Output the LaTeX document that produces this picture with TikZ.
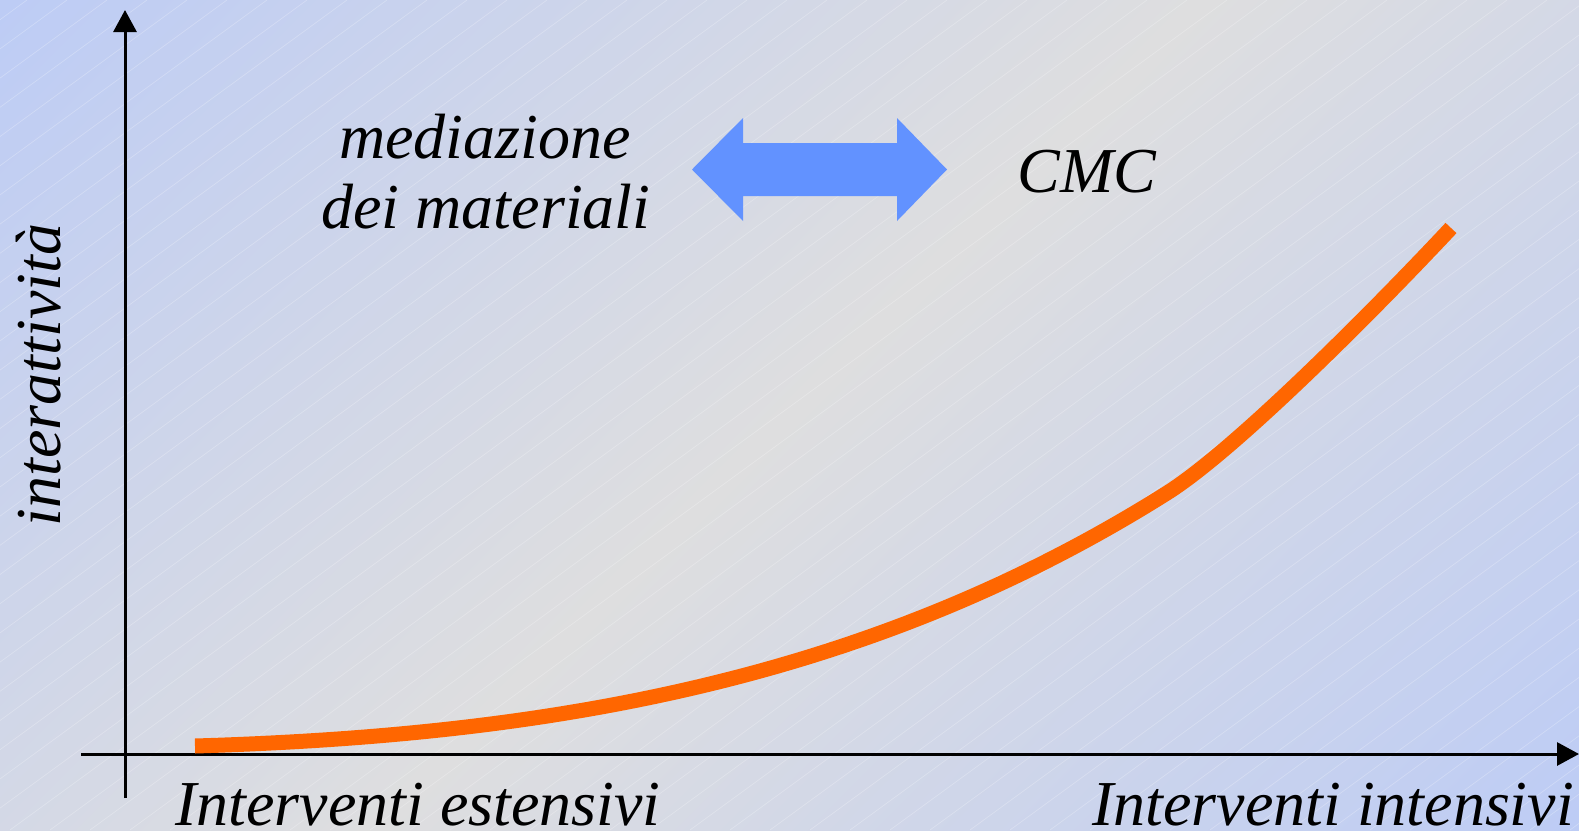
\documentclass[tikz,border=0pt]{standalone}
\usepackage{fontspec}
\setmainfont{Liberation Serif}
\usetikzlibrary{arrows.meta}
\definecolor{bgblue}{RGB}{189,204,245}
\definecolor{bggrey}{RGB}{222,222,223}
\definecolor{arrblue}{RGB}{98,146,255}
\definecolor{curveorange}{RGB}{255,102,0}
\pgfdeclareverticalshading{bgshade}{100bp}{color(0bp)=(bgblue); color(14.64bp)=(bgblue); color(50bp)=(bggrey); color(85.36bp)=(bgblue); color(100bp)=(bgblue)}
\begin{document}
\begin{tikzpicture}[x=1pt,y=-1pt,
  lbl/.style={font=\fontsize{64}{72}\selectfont\itshape, inner sep=0pt, text=black},
  axisline/.style={line width=3pt, draw=black, -{Triangle[length=22pt,width=23pt]}},
  texture/.style={draw=white, opacity=0.25, line width=0.7pt},
  curvestyle/.style={draw=curveorange, line width=15pt},
  dblarrow/.style={fill=arrblue, draw=none}]
% background
\shade[shading=bgshade, shading angle=45] (0,0) rectangle (1579,830);
\useasboundingbox (0,0) rectangle (1579,830);
\begin{scope}
  \clip (0,0) rectangle (1579,830);
  \foreach \k in {-1,...,69} \draw[texture] ({27+40*\k},0) -- ++(-1137,830);
\end{scope}
% axes
\coordinate (yb) at (125,798);
\coordinate (yt) at (125,10);
\coordinate (xl) at (81,754);
\coordinate (xr) at (1579,754);
\draw[axisline] (yb) -- (yt);
\draw[axisline] (xl) -- (xr);
% curve
\coordinate (c0) at (195,746);
\coordinate (c1) at (1167,493);
\coordinate (c2) at (1451,228);
\draw[curvestyle] (c0) .. controls (545,735.5) and (867,682) .. (c1)
                       .. controls (1237,448.9) and (1381,302.9) .. (c2);
% double arrow
\fill[dblarrow] (692,169.5) -- (743,118) -- (743,143) -- (897,143) -- (897,118) -- (947,169.5) -- (897,221) -- (897,196) -- (743,196) -- (743,221) -- cycle;
% labels
\node[lbl, anchor=base] (med) at (485,158) {mediazione};
\node[lbl, anchor=base] (dei) at (486,228) {dei materiali};
\node[lbl, anchor=base] (cmc) at (1087,192) {CMC};
\node[lbl, anchor=base, rotate=90] (inter) at (60,375) {interattività};
\node[lbl, anchor=base west] (est) at (175,825) {Interventi estensivi};
\node[lbl, anchor=base east] (int) at (1574,825) {Interventi intensivi};
\end{tikzpicture}
\end{document}
